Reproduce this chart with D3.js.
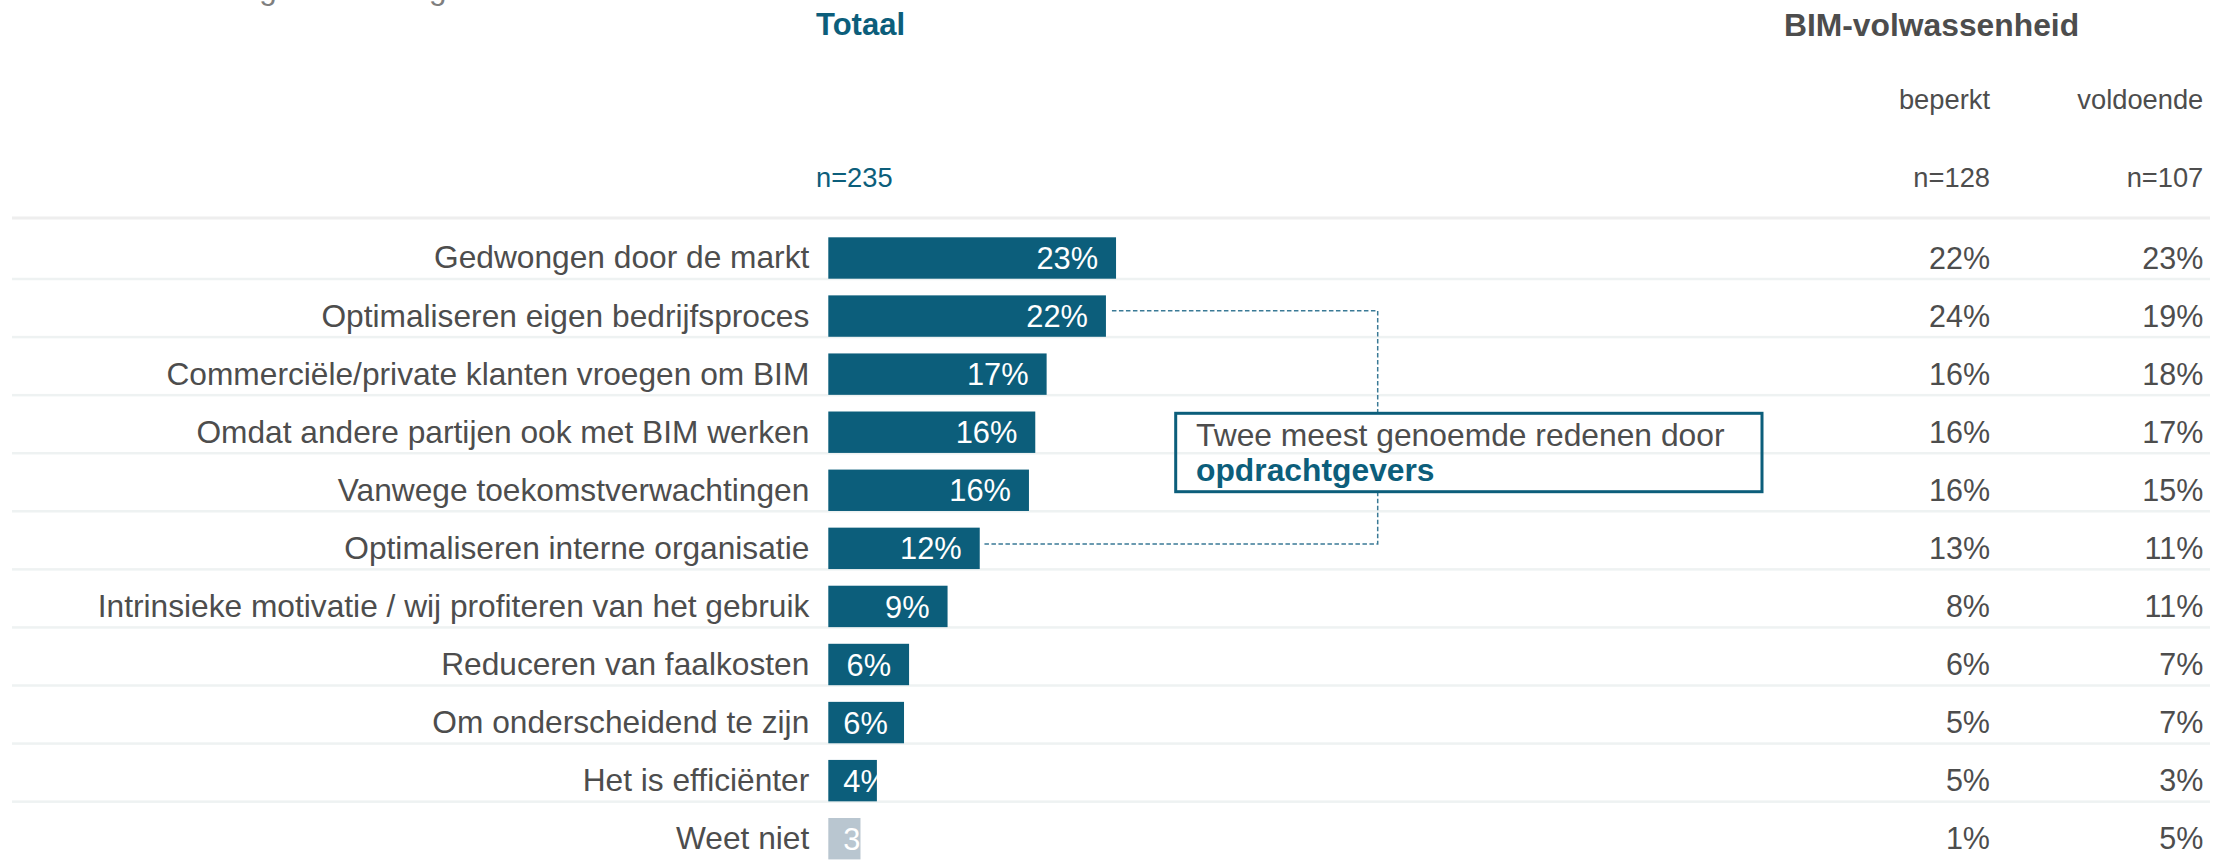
<!DOCTYPE html>
<html>
<head>
<meta charset="utf-8">
<script src="https://cdn.jsdelivr.net/npm/d3@7"></script>
<style>
  body { margin: 0; background: #fff; }
  svg text { font-family: "Liberation Sans", Arial, sans-serif; }
</style>
</head>
<body>
<svg id="chart"></svg>
<script>
// Data
const reasons = [
  "Gedwongen door de markt",
  "Optimaliseren eigen bedrijfsproces",
  "Commerciële/private klanten vroegen om BIM",
  "Omdat andere partijen ook met BIM werken",
  "Vanwege toekomstverwachtingen",
  "Optimaliseren interne organisatie",
  "Intrinsieke motivatie / wij profiteren van het gebruik",
  "Reduceren van faalkosten",
  "Om onderscheidend te zijn",
  "Het is efficiënter",
  "Weet niet"
];
// totaal (%)
const totaal = [22.8, 22.0, 17.3, 16.4, 15.9, 12.0, 9.45, 6.4, 6.0, 3.85, 2.55];
const beperkt = [22, 24, 16, 16, 16, 13, 8, 6, 5, 5, 1];
const voldoende = [23, 19, 18, 17, 15, 11, 11, 7, 7, 3, 5];
const columns = ["beperkt", "voldoende"];
const columnN = ["n=128", "n=107"];
const totalN = "n=235";
const highlighted = [1, 5]; // the two reasons linked to the note

const width = 2223;
const height = 862;
const teal = "#0c5e7b";
const grey = "#4d4d4d";
const fmt = d3.format(".0f");

const svg = d3.select("#chart")
  .attr("width", width)
  .attr("height", height);

// scales
const x = d3.scaleLinear().domain([0, 100]).range([828.3, 828.3 + 1262]);
const y = d3.scaleBand().domain(reasons).range([220.7, 220.7 + 11 * 58.07]);
const barOff = 16.6;
const barH = 41.4;
const colX = d3.scaleOrdinal().domain(columns).range([1990, 2203.3]);

// title, cut off at the top edge (only the descenders show)
svg.append("text")
  .attr("x", 24)
  .attr("y", -1.5)
  .attr("fill", "#7f7f7f")
  .style("font-size", "31.5px")
  .text("Waarom is uw organisatie begonnen met werken met BIM?");

// headers
svg.append("text")
  .attr("x", 816).attr("y", 35)
  .attr("fill", teal)
  .style("font-size", "31px").style("font-weight", "bold")
  .text("Totaal");
svg.append("text")
  .attr("x", 816).attr("y", 187)
  .attr("fill", teal)
  .style("font-size", "27.3px")
  .text(totalN);
svg.append("text")
  .attr("x", 1784).attr("y", 35.5)
  .attr("fill", grey)
  .style("font-size", "31.8px").style("font-weight", "bold")
  .text("BIM-volwassenheid");

svg.selectAll(".colhead")
  .data(columns)
  .enter().append("text")
  .attr("class", "colhead")
  .attr("x", d => colX(d)).attr("y", 108.5)
  .attr("text-anchor", "end")
  .attr("fill", grey)
  .style("font-size", "27.3px")
  .text(d => d);
svg.selectAll(".coln")
  .data(columns)
  .enter().append("text")
  .attr("class", "coln")
  .attr("x", d => colX(d)).attr("y", 187)
  .attr("text-anchor", "end")
  .attr("fill", grey)
  .style("font-size", "27.3px")
  .text((d, i) => columnN[i]);

// grid lines
svg.append("rect")
  .attr("x", 12).attr("y", 216.5)
  .attr("width", 2198).attr("height", 3)
  .attr("fill", "#eeeeee");
svg.selectAll(".sep")
  .data(reasons.slice(0, -1))
  .enter().append("rect")
  .attr("class", "sep")
  .attr("x", 12)
  .attr("y", d => y(d) + y.bandwidth() - 1)
  .attr("width", 2198).attr("height", 2.5)
  .attr("fill", "#eef2f2");

// row labels
svg.selectAll(".label")
  .data(reasons)
  .enter().append("text")
  .attr("class", "label")
  .attr("x", 809.3)
  .attr("y", d => y(d) + barOff + barH / 2)
  .attr("dy", "0.33em")
  .attr("text-anchor", "end")
  .attr("fill", grey)
  .style("font-size", "31.7px")
  .text(d => d);

// bars
const defs = svg.append("defs");
const rows = svg.selectAll(".row")
  .data(reasons)
  .enter().append("g")
  .attr("class", "row");

rows.each(function(d, i) {
  defs.append("clipPath").attr("id", "clip" + i)
    .append("rect")
    .attr("x", x(0)).attr("y", y(d) + barOff)
    .attr("width", x(totaal[i]) - x(0)).attr("height", barH);
});

rows.append("rect")
  .attr("x", x(0))
  .attr("y", d => y(d) + barOff)
  .attr("width", (d, i) => x(totaal[i]) - x(0))
  .attr("height", barH)
  .attr("fill", (d, i) => d === "Weet niet" ? "#b9c6d0" : teal);

rows.append("text")
  .attr("clip-path", (d, i) => "url(#clip" + i + ")")
  .attr("y", d => y(d) + barOff + barH / 2)
  .attr("dy", "0.36em")
  .attr("text-anchor", "end")
  .attr("fill", "#fff")
  .style("font-size", "30.8px")
  .text((d, i) => fmt(totaal[i]) + "%")
  .attr("x", function(d, i) {
    const w = this.getComputedTextLength();
    return Math.max(x(totaal[i]) - 18, x(0) + 15 + w);
  });

// value columns
[beperkt, voldoende].forEach((vals, c) => {
  svg.selectAll(".val" + c)
    .data(reasons)
    .enter().append("text")
    .attr("class", "val" + c)
    .attr("x", colX(columns[c]))
    .attr("y", d => y(d) + barOff + barH / 2)
    .attr("dy", "0.35em")
    .attr("text-anchor", "end")
    .attr("fill", grey)
    .style("font-size", "30.5px")
    .text((d, i) => vals[i] + "%");
});

// note box
const box = { x: 1175.7, y: 413.3, w: 586.3, h: 78.4 };
const lineX = 1377.7;
const topRow = reasons[highlighted[0]];
const botRow = reasons[highlighted[1]];
const y1 = y(topRow) + barOff + barH / 2 - 5.4;
const y2 = y(botRow) + barOff + barH / 2 - 4.4;

svg.append("path")
  .attr("d", `M${x(totaal[highlighted[0]]) + 6},${y1}H${lineX}V${box.y}`)
  .attr("fill", "none")
  .attr("stroke", "#3a7a96")
  .attr("stroke-width", 1.5)
  .attr("stroke-dasharray", "4.5,2.5");
svg.append("path")
  .attr("d", `M${lineX},${box.y + box.h}V${y2}H${x(totaal[highlighted[1]]) + 3}`)
  .attr("fill", "none")
  .attr("stroke", "#3a7a96")
  .attr("stroke-width", 1.5)
  .attr("stroke-dasharray", "4.5,2.5");

svg.append("rect")
  .attr("x", box.x).attr("y", box.y)
  .attr("width", box.w).attr("height", box.h)
  .attr("fill", "none")
  .attr("stroke", teal)
  .attr("stroke-width", 3);

svg.append("text")
  .attr("x", 1196).attr("y", 445.5)
  .attr("fill", grey)
  .style("font-size", "31.8px")
  .text("Twee meest genoemde redenen door");
svg.append("text")
  .attr("x", 1196).attr("y", 481)
  .attr("fill", teal)
  .style("font-size", "31.8px").style("font-weight", "bold")
  .text("opdrachtgevers");
</script>
</body>
</html>
